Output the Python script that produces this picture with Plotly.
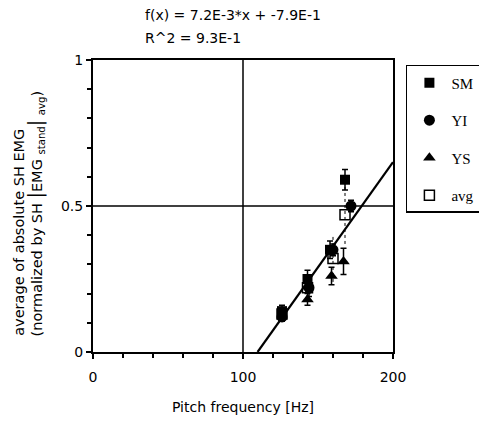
import numpy as np
import plotly.graph_objects as go

# data
sm_x = [126, 143, 158, 168]
sm_y = [0.14, 0.25, 0.35, 0.59]
sm_err = [0.02, 0.03, 0.03, 0.035]

yi_x = [126, 144, 160, 172]
yi_y = [0.12, 0.22, 0.35, 0.50]
yi_err = [0.015, 0.03, 0.02, 0.02]

ys_x = [143, 159, 167]
ys_y = [0.18, 0.26, 0.31]
ys_err = [0.02, 0.03, 0.045]

avg_x = [126, 143, 160, 168]
avg_y = [0.13, 0.22, 0.32, 0.47]
avg_err = [0.01, 0.06, 0.08, 0.10]

slope = 7.2e-3
intercept = -7.9e-1
fit_label = "f(x) = 7.2E-3*x + -7.9E-1"
r2_label = "R^2 = 9.3E-1"

x_ticks = [0, 100, 200]
x_minor = list(range(20, 200, 20))
y_ticks = [0, 0.5, 1]
y_ticktext = ["0", "0.5", "1"]
y_minor = [round(0.1 * i, 1) for i in range(1, 10)]
x_grid = 100
y_grid = 0.5

SANS = "DejaVu Sans"
SERIF = "Liberation Serif"

fig = go.Figure()

# regression line
fx = np.linspace(-intercept / slope, 200, 50)
fig.add_trace(go.Scatter(x=fx, y=slope * fx + intercept, mode="lines",
                         line=dict(color="black", width=2.2),
                         showlegend=False, hoverinfo="skip"))

# dotted error bars for avg
ex, ey = [], []
for x, y, e in zip(avg_x, avg_y, avg_err):
    ex += [x, x, None]
    ey += [y - e, y + e, None]
fig.add_trace(go.Scatter(x=ex, y=ey, mode="lines",
                         line=dict(color="black", width=1, dash="dot"),
                         showlegend=False, hoverinfo="skip"))

err_style = dict(type="data", color="black", thickness=1.5, width=3)

fig.add_trace(go.Scatter(x=sm_x, y=sm_y, mode="markers", name="SM", legendgroup="a",
                         marker=dict(symbol="square", size=10, color="black"),
                         error_y=dict(array=sm_err, **err_style)))
fig.add_trace(go.Scatter(x=yi_x, y=yi_y, mode="markers", name="YI", legendgroup="b",
                         marker=dict(symbol="circle", size=11, color="black"),
                         error_y=dict(array=yi_err, **err_style)))
fig.add_trace(go.Scatter(x=ys_x, y=ys_y, mode="markers", name="YS", legendgroup="c",
                         marker=dict(symbol="triangle-up", size=11, color="black"),
                         error_y=dict(array=ys_err, **err_style)))
fig.add_trace(go.Scatter(x=avg_x, y=avg_y, mode="markers", name="avg", legendgroup="d",
                         marker=dict(symbol="square-open", size=10, color="black",
                                     line=dict(width=1.5, color="black"))))

# grid lines at the middle values
fig.add_shape(type="line", xref="x", yref="paper", x0=x_grid, x1=x_grid, y0=0, y1=1,
              line=dict(color="black", width=1.5), layer="below")
fig.add_shape(type="line", xref="paper", yref="y", x0=0, x1=1, y0=y_grid, y1=y_grid,
              line=dict(color="black", width=1.5), layer="below")

axis_common = dict(showline=True, linecolor="black", linewidth=2, mirror=True,
                   ticks="outside", ticklen=5, tickwidth=1.5, tickcolor="black",
                   showgrid=False, zeroline=False,
                   tickfont=dict(family=SANS, size=14, color="black"))

fig.update_xaxes(range=[0, 200], tickmode="array", tickvals=x_ticks,
                 ticktext=[str(v) for v in x_ticks], ticklabelstandoff=6,
                 minor=dict(tickmode="array", tickvals=x_minor, ticks="outside", ticklen=4,
                            tickwidth=1.5, tickcolor="black", showgrid=False),
                 title=dict(text="Pitch frequency [Hz]", font=dict(family=SANS, size=14, color="black"),
                            standoff=18),
                 **axis_common)
fig.update_yaxes(range=[0, 1], tickmode="array", tickvals=y_ticks, ticktext=y_ticktext,
                 minor=dict(tickmode="array", tickvals=y_minor, ticks="outside", ticklen=4,
                            tickwidth=1.5, tickcolor="black", showgrid=False),
                 **axis_common)

fig.add_annotation(text=fit_label, xref="paper", yref="paper", x=0.167, y=1.154,
                   xanchor="left", yanchor="middle", showarrow=False,
                   font=dict(family=SANS, size=14, color="black"))
fig.add_annotation(text=r2_label, xref="paper", yref="paper", x=0.167, y=1.075,
                   xanchor="left", yanchor="middle", showarrow=False,
                   font=dict(family=SANS, size=14, color="black"))

fig.add_annotation(text="average of absolute SH EMG", xref="paper", yref="paper",
                   x=-0.245, y=0.41, xanchor="center", yanchor="middle", textangle=-90,
                   showarrow=False, font=dict(family=SANS, size=14.5, color="black"))
fig.add_annotation(text="(normalized by SH <span style='font-size:19px'>|</span>EMG <sub>stand</sub><span style='font-size:19px'>|</span> <sub>avg</sub>)",
                   xref="paper", yref="paper",
                   x=-0.193, y=0.475, xanchor="center", yanchor="middle", textangle=-90,
                   showarrow=False, font=dict(family=SANS, size=14.5, color="black"))

fig.update_layout(
    width=479, height=422,
    margin=dict(l=93, r=86, t=60, b=70, autoexpand=False),
    paper_bgcolor="white", plot_bgcolor="white",
    legend=dict(x=1.043, y=0.983, xanchor="left", yanchor="top",
                bordercolor="black", borderwidth=1.5, bgcolor="white",
                traceorder="grouped", tracegroupgap=15, itemwidth=34,
                font=dict(family=SERIF, size=15, color="black")),
)

fig.write_html("out.html")
